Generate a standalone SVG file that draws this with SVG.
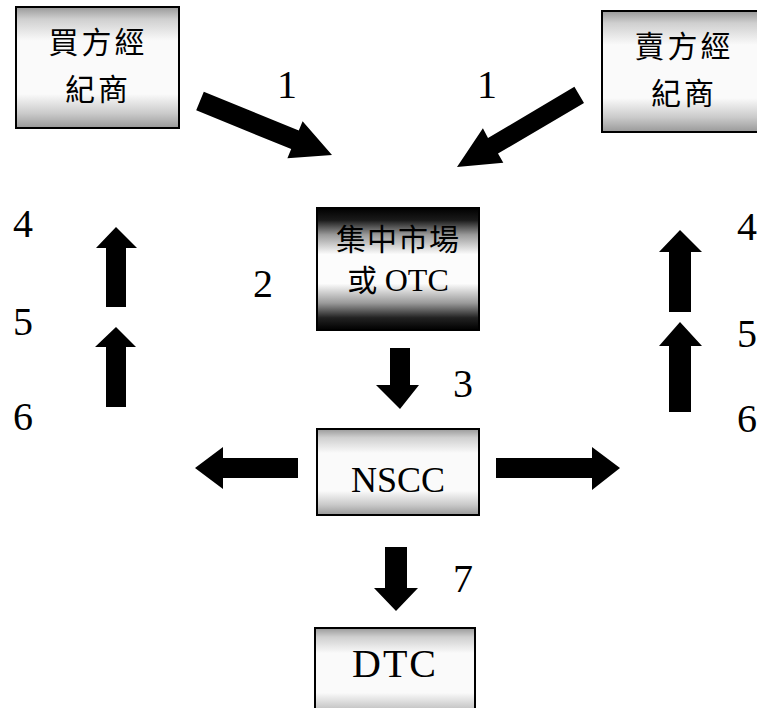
<svg xmlns="http://www.w3.org/2000/svg" width="757" height="708" viewBox="0 0 757 708">
<defs>
<linearGradient id="gBox" x1="0" y1="0" x2="0" y2="1">
<stop offset="0" stop-color="#999"/>
<stop offset="0.1" stop-color="#cfcfcf"/>
<stop offset="0.28" stop-color="#fafafa"/>
<stop offset="0.72" stop-color="#fafafa"/>
<stop offset="0.88" stop-color="#cacaca"/>
<stop offset="1" stop-color="#999"/>
</linearGradient>
<linearGradient id="gDark" x1="0" y1="0" x2="0" y2="1">
<stop offset="0" stop-color="#000"/>
<stop offset="0.1" stop-color="#1a1a1a"/>
<stop offset="0.22" stop-color="#9a9a9a"/>
<stop offset="0.38" stop-color="#fcfcfc"/>
<stop offset="0.62" stop-color="#fcfcfc"/>
<stop offset="0.78" stop-color="#999"/>
<stop offset="0.9" stop-color="#222"/>
<stop offset="1" stop-color="#000"/>
</linearGradient>
</defs>
<style>
.box{fill:url(#gBox);stroke:#000;stroke-width:2}
.dark{fill:url(#gDark);stroke:#000;stroke-width:2}
.cjk{font-family:"Liberation Serif","Noto Sans CJK TC",serif;font-size:30px;fill:#000;text-anchor:middle}
.lat{font-family:"Liberation Serif",serif;fill:#000;text-anchor:middle}
.num{font-family:"Liberation Serif",serif;font-size:40px;fill:#000;text-anchor:middle}
.arr{fill:#000}
</style>
<g id="buyer">
<rect class="box" x="16" y="7" width="163" height="121"/>
<text class="cjk" x="98" y="53" letter-spacing="3">買方經</text>
<text class="cjk" x="98" y="100" letter-spacing="3">紀商</text>
</g>
<g id="seller">
<rect class="box" x="602" y="11" width="165" height="121"/>
<text class="cjk" x="684" y="57" letter-spacing="3">賣方經</text>
<text class="cjk" x="684" y="104" letter-spacing="3">紀商</text>
</g>
<g id="market">
<rect class="dark" x="317" y="208" width="162" height="122"/>
<text class="cjk" x="398" y="250" font-size="29" letter-spacing="1">集中市場</text>
<text class="cjk" x="398" y="291" font-size="29">或 <tspan font-family="Liberation Serif" font-size="32">OTC</tspan></text>
</g>
<g id="nscc">
<rect class="box" x="317" y="429" width="162" height="86"/>
<text class="lat" x="398" y="492" font-size="36">NSCC</text>
</g>
<g id="dtc">
<rect class="box" x="315" y="628" width="160" height="90"/>
<text class="lat" x="395" y="677" font-size="40" letter-spacing="2">DTC</text>
</g>
<g id="connectors">
<polygon class="arr" points="203.8,91.7 298.8,130.5 302.6,121.3 332,155 287.4,158.3 291.2,149.1 196.2,110.3"/>
<polygon class="arr" points="574.4,86.8 488,138 482.9,128.3 457,167 503.3,162.7 498,153.5 584,103"/>
<polygon class="arr" points="390,348 410,348 410,385 419,385 400,409 376,385 390,385"/>
<polygon class="arr" points="385,547 407,547 407,588 418,588 396,611 374,588 385,588"/>
<polygon class="arr" points="298,458 223,458 223,447 195,468 223,489 223,478 298,478"/>
<polygon class="arr" points="496,458 592,458 592,447 620,468 592,490 592,478 496,478"/>
<polygon class="arr" points="106,307 106,248 96,248 116,227 137,248 126,248 126,307"/>
<polygon class="arr" points="106,407 106,347 95,347 116,327 136,347 126,347 126,407"/>
<polygon class="arr" points="669,312 669,252 659,252 680,230 702,252 691,252 691,312"/>
<polygon class="arr" points="669,412 669,346 659,346 680,322 702,346 691,346 691,412"/>
</g>
<g id="labels">
<text class="num" x="287" y="98">1</text>
<text class="num" x="487" y="98">1</text>
<text class="num" x="263" y="297">2</text>
<text class="num" x="463" y="397">3</text>
<text class="num" x="463" y="592">7</text>
<text class="num" x="23" y="237">4</text>
<text class="num" x="23" y="335">5</text>
<text class="num" x="23" y="430">6</text>
<text class="num" x="747" y="240">4</text>
<text class="num" x="747" y="347">5</text>
<text class="num" x="747" y="432">6</text>
</g>
</svg>
